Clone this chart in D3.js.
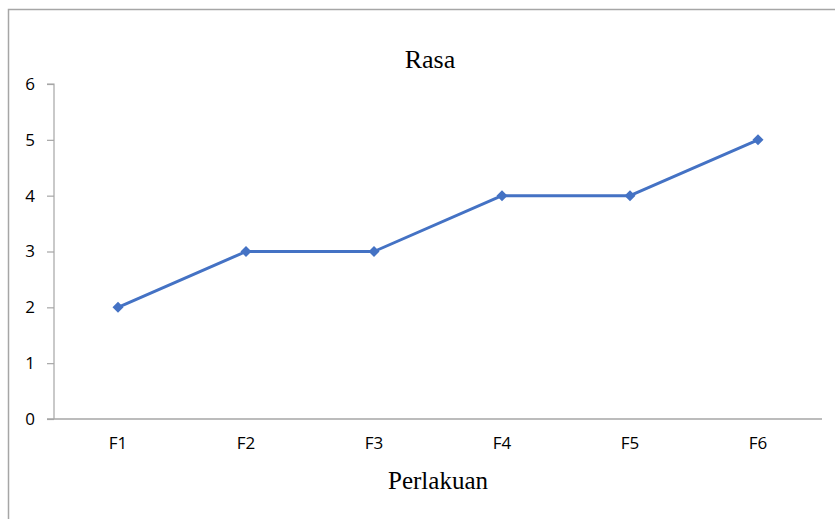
<!DOCTYPE html>
<html lang="id">
<head>
<meta charset="utf-8">
<title>Rasa</title>
<script src="https://cdn.jsdelivr.net/npm/d3@7"></script>
<style>
    body {margin: 0; background: #fff;}
</style>
</head>
<body>
<script>
    // data
    const categories = ["F1", "F2", "F3", "F4", "F5", "F6"];
    const values = [2, 3, 3, 4, 4, 5];
    const yTicks = [0, 1, 2, 3, 4, 5, 6];

    const width = 835, height = 519;
    const plot = {left: 54, right: 822, top: 84, bottom: 419};
    const tickFont = "'Open Sans', 'Noto Sans', sans-serif";

    const svg = d3.select("body").append("svg")
        .attr("width", width)
        .attr("height", height);

    // outer chart frame (runs off right / bottom edge)
    svg.append("path")
        .attr("d", `M8.5,${height + 2} V9.5 H${width + 2}`)
        .attr("fill", "none")
        .attr("stroke", "#a6a6a6")
        .attr("stroke-width", 1.5);

    const x = d3.scaleBand().domain(categories).range([plot.left, plot.right]);
    const y = d3.scaleLinear().domain([0, 6]).range([plot.bottom, plot.top]);

    // y axis
    const yAxis = svg.append("g")
        .attr("transform", `translate(${plot.left},0)`)
        .call(d3.axisLeft(y).tickValues(yTicks).tickFormat(d3.format("d")).tickSize(7).tickPadding(12));
    yAxis.selectAll("line, path").attr("stroke", "#a6a6a6").attr("stroke-width", 1.2);
    yAxis.select(".domain").attr("d", `M-7,${plot.top}H0V${plot.bottom}`);
    yAxis.selectAll("text").style("font-family", tickFont).style("font-size", "17px").attr("fill", "#000");

    // x axis
    const xAxis = svg.append("g")
        .attr("transform", `translate(0,${plot.bottom})`)
        .call(d3.axisBottom(x).tickSize(0).tickPadding(18));
    xAxis.selectAll("line").remove();
    xAxis.select(".domain").attr("stroke", "#a6a6a6").attr("stroke-width", 1.5)
        .attr("d", `M${plot.left - 7},0H${plot.right}`);
    xAxis.selectAll("text").style("font-family", tickFont).style("font-size", "17px").attr("fill", "#000");

    const cx = d => x(d) + x.bandwidth() / 2;

    // line
    svg.append("path")
        .datum(values)
        .attr("fill", "none")
        .attr("stroke", "#4472c4")
        .attr("stroke-width", 3)
        .attr("stroke-linejoin", "round")
        .attr("d", d3.line().x((d, i) => cx(categories[i])).y(d => y(d)));

    // diamond markers
    svg.selectAll(".marker")
        .data(values)
        .join("path")
        .attr("class", "marker")
        .attr("transform", (d, i) => `translate(${cx(categories[i])},${y(d)})`)
        .attr("d", "M0,-5.5L5.5,0L0,5.5L-5.5,0Z")
        .attr("fill", "#4472c4");

    // title & axis title
    svg.append("text")
        .attr("x", 430).attr("y", 68)
        .attr("text-anchor", "middle")
        .style("font-family", "'Liberation Serif', 'Times New Roman', serif")
        .style("font-size", "26px")
        .text("Rasa");

    svg.append("text")
        .attr("x", 438).attr("y", 489)
        .attr("text-anchor", "middle")
        .style("font-family", "'Liberation Serif', 'Times New Roman', serif")
        .style("font-size", "25px")
        .text("Perlakuan");
</script>
</body>
</html>
